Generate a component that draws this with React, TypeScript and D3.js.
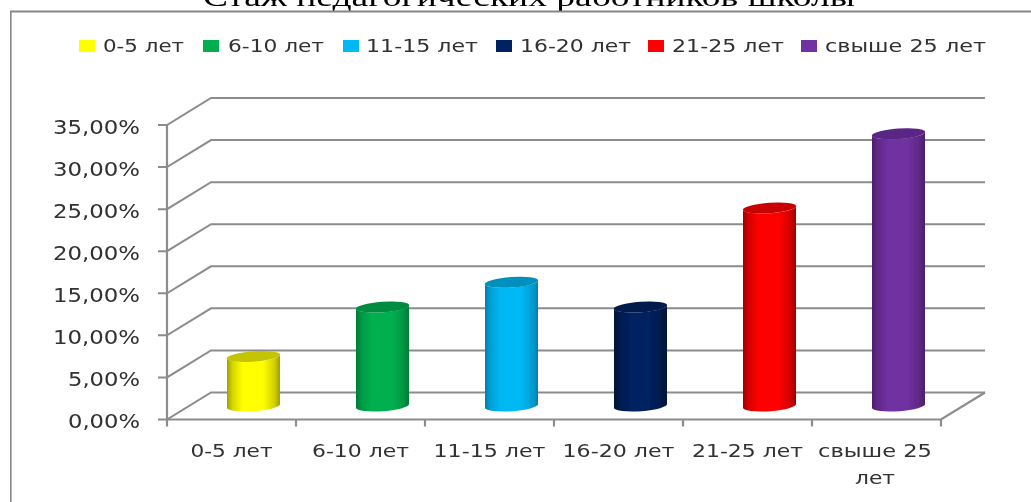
import React from "react";
import * as d3 from "d3";

const categories = ["0-5 лет", "6-10 лет", "11-15 лет", "16-20 лет", "21-25 лет", "свыше 25 лет"];
const values = [5.88, 11.76, 14.7, 11.76, 23.53, 32.35];
const colors = ["#ffff00", "#00b050", "#00b8f4", "#002060", "#ff0000", "#7030a0"];
const darkEdges = ["#a0a000", "#007a38", "#0080ad", "#001234", "#a00000", "#4a2068"];
const topColors = ["#c4c400", "#008c40", "#0090bd", "#001a4d", "#c80000", "#5a2585"];
const yTicks = [0, 5, 10, 15, 20, 25, 30, 35];
const title = "Стаж педагогических работников школы";

const W = 1031, H = 502;
const x0 = 167, x1 = 941, y0 = 419.5, y1 = 125;
const depthX = 44, depthY = 27;
const grid = "#8c8c8c";
const textCol = "#303030";
const font = "'DejaVu Sans', sans-serif";

const legendSwatchX = [79, 203, 343, 496, 648, 801];
const legendTextX = [103, 228, 366, 520, 672, 825];
const legendTextW = [81, 96, 112, 111, 112, 161];
const axisLabelW = [82, 97, 112, 112, 111];
const gradientStops: [number, number][] = [[0, 0], [0.1, 0.55], [0.3, 1], [0.68, 1], [0.88, 0.55], [1, 0]];

const yScale = d3.scaleLinear().domain([0, 35]).range([y0, y1]);
const xBand = d3.scaleBand<string>().domain(categories).range([x0, x1]);
const yFmt = (v: number) => d3.format(".2f")(v).replace(".", ",") + "%";

function Cylinder({ i }: { i: number }) {
  const bw = xBand.bandwidth();
  const cx = (xBand(categories[i]) as number) + bw / 2 + depthX / 2;
  const rx = 26.5, ry = 5.2, tilt = 2;
  const baseY = y0 - depthY / 2;
  const topY = baseY - (y0 - yScale(values[i]));
  const L = cx - rx, R = cx + rx;
  const body = `M${L},${topY + tilt}L${L},${baseY + tilt}A${rx},${ry} -4 0 0 ${R},${baseY - tilt}L${R},${topY - tilt}A${rx},${ry} -4 0 1 ${L},${topY + tilt}Z`;
  return (
    <g>
      <path d={body} fill={`url(#grad${i})`} />
      <ellipse cx={cx} cy={topY} rx={rx + 0.2} ry={ry} fill={topColors[i]} transform={`rotate(-4 ${cx} ${topY})`} />
    </g>
  );
}

export default function App() {
  return (
    <svg width={W} height={H} viewBox={`0 0 ${W} ${H}`}
      style={{ position: "fixed", left: 0, top: 0, background: "#fff" }}>
      <defs>
        <filter id="soft" x="0" y="0" width="100%" height="100%">
          <feGaussianBlur stdDeviation="0.65" />
        </filter>
        {colors.map((c, i) => (
          <linearGradient key={i} id={`grad${i}`} x1="0" x2="1" y1="0" y2="0">
            {gradientStops.map(([o, m]) => (
              <stop key={o} offset={o} stopColor={d3.interpolateRgb(darkEdges[i], c)(m)} />
            ))}
          </linearGradient>
        ))}
      </defs>
      <g filter="url(#soft)">
        <text x={529} y={6} textAnchor="middle" fontFamily="'Liberation Serif', serif" fontSize={28}
          textLength={652} lengthAdjust="spacingAndGlyphs" fill="#000">{title}</text>
        <path d={`M10.5,${H}V11.5H${W}`} fill="none" stroke="#858585" strokeWidth={2.2} />

        {legendSwatchX.map((sx, i) => (
          <g key={i}>
            <rect x={sx} y={40} width={16} height={12} fill={colors[i]} />
            <text x={legendTextX[i]} y={52} fontFamily={font} fontSize={17.5} fill={textCol}
              textLength={legendTextW[i]} lengthAdjust="spacingAndGlyphs">{categories[i]}</text>
          </g>
        ))}

        {yTicks.map((t) => {
          const y = yScale(t);
          return (
            <g key={t}>
              <path d={`M${x0 - 9},${y}H${x0}L${x0 + depthX},${y - depthY}H${x1 + depthX}`}
                fill="none" stroke={grid} strokeWidth={2} />
              <text x={140} y={y + 8.5} textAnchor="end" fontFamily={font} fontSize={19} fill={textCol}
                textLength={t === 0 || t === 5 ? 72 : 87} lengthAdjust="spacingAndGlyphs">{yFmt(t)}</text>
            </g>
          );
        })}
        <path d={`M${x0},${y1}V${y0 + 7}`} fill="none" stroke={grid} strokeWidth={2.2} />
        <path d={`M${x0},${y0}H${x1}L${x1 + depthX},${y0 - depthY}`} fill="none" stroke={grid} strokeWidth={2.2} />
        {categories.map((c) => {
          const tx = (xBand(c) as number) + xBand.bandwidth();
          return <line key={c} x1={tx} x2={tx} y1={y0} y2={y0 + 7} stroke={grid} strokeWidth={2.2} />;
        })}

        {categories.map((_, i) => <Cylinder key={i} i={i} />)}

        {categories.slice(0, 5).map((c, i) => (
          <text key={c} x={(xBand(c) as number) + xBand.bandwidth() / 2} y={457} textAnchor="middle"
            fontFamily={font} fontSize={17.5} fill={textCol}
            textLength={axisLabelW[i]} lengthAdjust="spacingAndGlyphs">{c}</text>
        ))}
        <text x={875} y={457} textAnchor="middle" fontFamily={font} fontSize={17.5} fill={textCol}
          textLength={114} lengthAdjust="spacingAndGlyphs">свыше 25</text>
        <text x={875} y={484} textAnchor="middle" fontFamily={font} fontSize={17.5} fill={textCol}
          textLength={40} lengthAdjust="spacingAndGlyphs">лет</text>
      </g>
    </svg>
  );
}
